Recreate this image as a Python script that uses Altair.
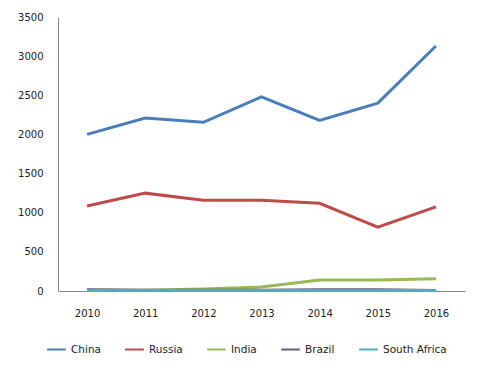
import altair as alt
import pandas as pd

years = ["2010", "2011", "2012", "2013", "2014", "2015", "2016"]
china = [2000, 2210, 2155, 2480, 2180, 2400, 3130]
russia = [1085, 1250, 1160, 1160, 1120, 815, 1075]
india = [10, 10, 25, 50, 140, 140, 155]
brazil = [15, 10, 10, 10, 15, 15, 5]
south_africa = [5, 5, 5, 5, 5, 5, 5]

series = ["China", "Russia", "India", "Brazil", "South Africa"]
colors = ["#4A7EBB", "#BE4B48", "#98B954", "#5E5E7E", "#4BACC6"]

rows = []
for name, vals in zip(series, [china, russia, india, brazil, south_africa]):
    for y, v in zip(years, vals):
        rows.append({"Year": y, "Value": v, "Country": name})
df = pd.DataFrame(rows)

font = "DejaVu Sans"
chart = alt.Chart(df).mark_line(strokeWidth=3).encode(
    x=alt.X("Year:O", scale=alt.Scale(type="point", padding=0.5),
            axis=alt.Axis(title=None, labelAngle=0, ticks=False, domainColor="#888888",
                          labelColor="#222222", labelFontSize=10, labelPadding=17, labelFont=font)),
    y=alt.Y("Value:Q", scale=alt.Scale(domain=[0, 3500]),
            axis=alt.Axis(title=None, values=[0, 500, 1000, 1500, 2000, 2500, 3000, 3500], grid=False,
                          format="d", ticks=False, domainColor="#888888", labelColor="#222222",
                          labelFontSize=10, labelPadding=15, labelFont=font)),
    color=alt.Color("Country:N", sort=series, scale=alt.Scale(domain=series, range=colors),
                    legend=alt.Legend(title=None, orient="none", legendX=-12, legendY=322, direction="horizontal",
                                      symbolType="stroke", symbolStrokeWidth=2, symbolSize=350,
                                      labelFontSize=10.5, labelFont=font, labelColor="#222222", columnPadding=20)),
).properties(
    width=407, height=274,
    autosize=alt.AutoSizeParams(type="none"),
    padding={"left": 50, "top": 9, "right": 11, "bottom": 69},
).configure_view(stroke=None)

chart.save("out.html", embed_options={"renderer": "svg", "actions": False})
